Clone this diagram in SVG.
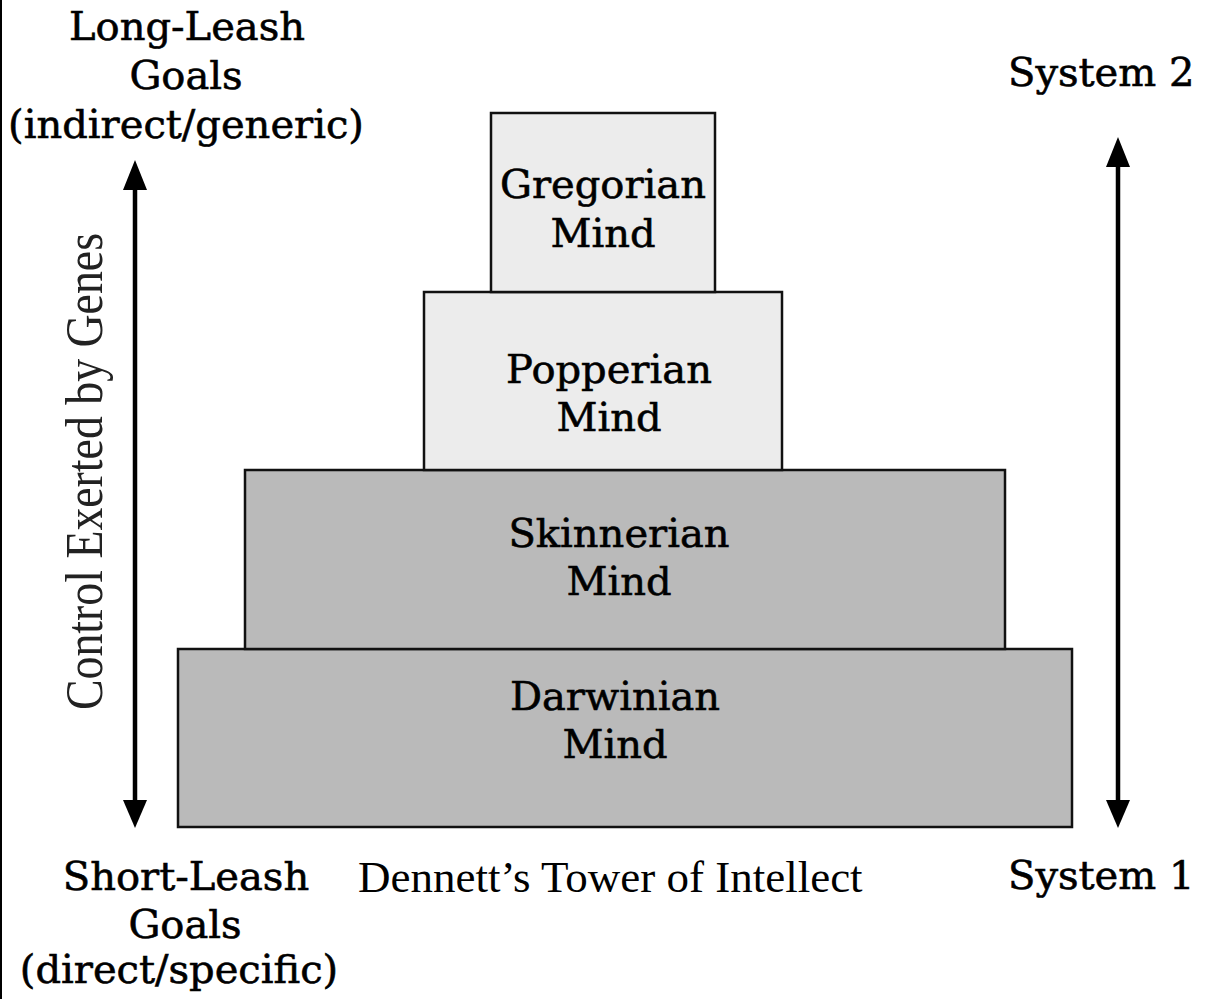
<svg xmlns="http://www.w3.org/2000/svg" width="1208" height="999" viewBox="0 0 1208 999">
  <style>
    .lbl { font-family: "DejaVu Serif", "Liberation Serif", serif; font-size: 40px; fill: #000; stroke: #000; stroke-width: 0.6; text-anchor: middle; }
    .box-light { fill: #ececec; stroke: #111; stroke-width: 2.5; }
    .box-dark { fill: #bababa; stroke: #111; stroke-width: 2.5; }
    .arrow { stroke: #000; stroke-width: 4.5; fill: none; }
    .head { fill: #000; }
  </style>
  <defs>
    <clipPath id="edge"><rect x="0" y="0" width="1194" height="999"/></clipPath>
  </defs>
  <rect x="0" y="0" width="1208" height="999" fill="#fff"/>
  <line x1="1" y1="0" x2="1" y2="999" stroke="#000" stroke-width="2"/>

  <g id="darwinian">
    <rect class="box-dark" x="178" y="649" width="894" height="178"/>
    <text class="lbl" x="615" y="710">Darwinian</text>
    <text class="lbl" x="615" y="758">Mind</text>
  </g>
  <g id="skinnerian">
    <rect class="box-dark" x="245" y="470" width="760" height="179"/>
    <text class="lbl" x="619" y="547">Skinnerian</text>
    <text class="lbl" x="619" y="595">Mind</text>
  </g>
  <g id="popperian">
    <rect class="box-light" x="424" y="292" width="358" height="178"/>
    <text class="lbl" x="609" y="383">Popperian</text>
    <text class="lbl" x="609" y="431">Mind</text>
  </g>
  <g id="gregorian">
    <rect class="box-light" x="491" y="113" width="224" height="179"/>
    <text class="lbl" x="603" y="198">Gregorian</text>
    <text class="lbl" x="603" y="247">Mind</text>
  </g>

  <g id="connectors">
    <line class="arrow" x1="135" y1="186" x2="135" y2="804"/>
    <polygon class="head" points="135,160 123,190 147,190"/>
    <polygon class="head" points="135,828 123,800 147,800"/>
    <line class="arrow" x1="1118" y1="163" x2="1118" y2="804"/>
    <polygon class="head" points="1118,137 1106,167 1130,167"/>
    <polygon class="head" points="1118,828 1106,800 1130,800"/>
  </g>

  <g id="long-leash">
    <text class="lbl" x="187" y="40">Long-Leash</text>
    <text class="lbl" x="186" y="89">Goals</text>
    <text class="lbl" x="186" y="138">(indirect/generic)</text>
  </g>
  <g id="short-leash">
    <text class="lbl" x="186" y="890">Short-Leash</text>
    <text class="lbl" x="185" y="938">Goals</text>
    <text class="lbl" x="179" y="983">(direct/specific)</text>
  </g>
  <g id="system2" clip-path="url(#edge)">
    <text class="lbl" x="1008" y="86" style="text-anchor:start">System 2</text>
  </g>
  <g id="system1" clip-path="url(#edge)">
    <text class="lbl" x="1008" y="889" style="text-anchor:start">System 1</text>
  </g>
  <g id="control-label">
    <text x="102" y="710" transform="rotate(-90 102 710)" font-family="'Liberation Serif', serif" font-size="52" fill="#222" textLength="477" lengthAdjust="spacingAndGlyphs">Control Exerted by Genes</text>
  </g>
  <g id="title">
    <text x="358" y="892" font-family="'Liberation Serif', serif" font-size="45" fill="#000">Dennett’s Tower of Intellect</text>
  </g>
</svg>
